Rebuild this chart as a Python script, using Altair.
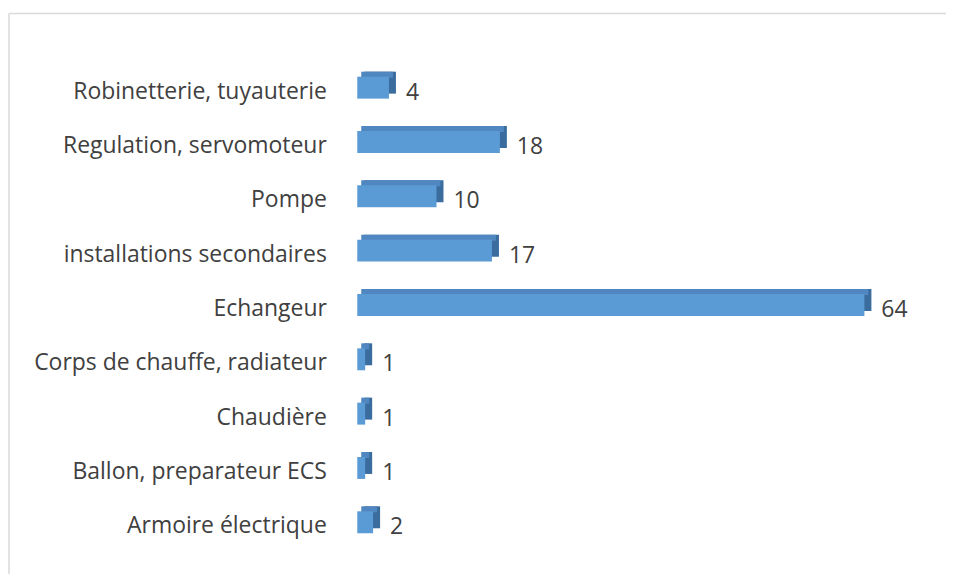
import altair as alt
import pandas as pd

categories = [
    "Robinetterie, tuyauterie",
    "Regulation, servomoteur",
    "Pompe",
    "installations secondaires",
    "Echangeur",
    "Corps de chauffe, radiateur",
    "Chaudière",
    "Ballon, preparateur ECS",
    "Armoire électrique",
]
values = [4, 18, 10, 17, 64, 1, 1, 1, 2]

df = pd.DataFrame({"cat": categories, "val": values})

FONT = "Open Sans"
y_enc = alt.Y("cat:N", sort=categories, title=None,
              scale=alt.Scale(paddingInner=0.6, paddingOuter=0.3),
              axis=alt.Axis(labelFontSize=23, labelColor="#404040", labelFont=FONT,
                            domain=False, ticks=False, labelPadding=31, labelLimit=400))
x_enc = alt.X("val:Q", scale=alt.Scale(domain=[0, 68]), axis=None, title=None)

base = alt.Chart(df)

back = base.mark_bar(color="#3A6C9E", size=22, xOffset=7, yOffset=-9).encode(y=y_enc, x=x_enc)
top = base.mark_bar(color="#5087C0", size=6, xOffset=4, yOffset=-17).encode(y=y_enc, x=x_enc)
front = base.mark_bar(color="#5B9BD5", size=22, yOffset=-4).encode(y=y_enc, x=x_enc)
labels = base.mark_text(align="left", baseline="middle", dx=17, dy=1, fontSize=23,
                        color="#404040", font=FONT).encode(y=y_enc, x=x_enc, text="val:Q")

border_top = alt.Chart(pd.DataFrame({"a": [0]})).mark_rule(color="#D9D9D9", strokeWidth=1.5).encode(
    x=alt.value(-349), x2=alt.value(700), y=alt.value(-51))
border_left = alt.Chart(pd.DataFrame({"a": [0]})).mark_rule(color="#D9D9D9", strokeWidth=1.5).encode(
    x=alt.value(-349), y=alt.value(-51), y2=alt.value(600))

chart = alt.layer(border_top, border_left, back, top, front, labels).properties(
    width=540, height=490,
    autosize=alt.AutoSizeParams(type="none"),
    padding={"left": 350, "top": 56, "right": 50, "bottom": 20},
).configure(background="white").configure_view(strokeWidth=0)

chart.save("out.html", embed_options={"renderer": "svg", "actions": False})
